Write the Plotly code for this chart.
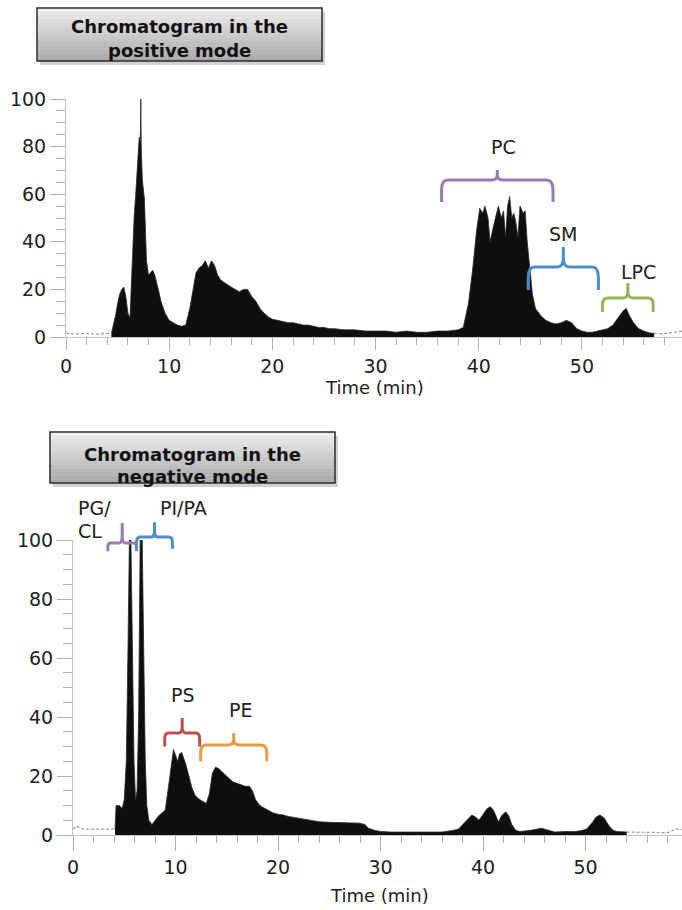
import plotly.graph_objects as go

# ---------------- data ----------------
# Positive mode chromatogram (time in min, relative abundance %)
pos_time = [4.4, 4.6, 4.8, 5.0, 5.2, 5.4, 5.6, 5.8, 6.0, 6.2, 6.4, 6.6, 6.8, 7.0, 7.1, 7.2, 7.25, 7.3,
            7.4, 7.6, 7.8, 8.0, 8.2, 8.4, 8.6, 8.8, 9.0, 9.2, 9.4, 9.6, 9.8, 10.0, 10.4, 10.8, 11.2,
            11.6, 12.0, 12.3, 12.6, 12.9, 13.2, 13.5, 13.8, 14.1, 14.4, 14.7, 15.0, 15.3, 15.6, 16.0,
            16.4, 16.8, 17.2, 17.6, 18.0, 18.4, 18.8, 19.2, 19.6, 20.0, 20.5, 21.0, 21.5, 22.0, 22.5,
            23.0, 23.5, 24.0, 24.5, 25.0, 25.5, 26.0, 27.0, 28.0, 29.0, 30.0, 31.0, 32.0, 33.0, 34.0,
            35.0, 36.0, 37.0, 38.0, 38.5, 39.0, 39.4, 39.8, 40.1, 40.4, 40.6, 40.9, 41.1, 41.4, 41.7,
            41.9, 42.2, 42.4, 42.6, 42.8, 43.0, 43.2, 43.4, 43.6, 43.8, 44.0, 44.3, 44.5, 44.7, 44.9,
            45.2, 45.5, 46.0, 46.5, 47.0, 47.5, 48.0, 48.5, 49.0, 49.5, 50.0, 50.5, 51.0, 51.5, 52.0,
            52.5, 53.0, 53.5, 54.0, 54.3, 54.6, 55.0, 55.5, 56.0, 56.5, 57.0]
pos_abund = [1.5, 5, 9, 14, 18, 20, 21, 17, 10, 8, 30, 50, 63, 80, 84, 82, 100, 78,
             66, 58, 32, 26, 27, 28, 26, 23, 19, 15, 12, 10, 8.5, 7, 6, 5, 4.5,
             5, 12, 20, 27, 29, 30, 32, 29, 32, 30, 26, 24, 23, 22, 21,
             20, 19, 20, 20, 17, 15, 12, 10, 8.5, 7.5, 7, 6.5, 6, 6, 5.5,
             5, 5, 4.5, 4, 4, 3.5, 3.5, 3, 3, 2.5, 2.5, 2.5, 2, 2.5, 2,
             2, 2.5, 2.5, 3, 4, 14, 28, 45, 54, 52, 55, 50, 40, 46, 52,
             55, 50, 53, 42, 55, 59, 50, 52, 48, 42, 55, 52, 53, 40, 30,
             18, 12, 9, 7, 6, 5.5, 6, 7, 6, 3.5, 2.5, 2, 2, 2.5, 3,
             3.5, 5, 8, 11, 12, 9, 6, 3.5, 2.5, 1.8, 1.5]
pos_base_time = [0, 1, 2, 3, 4, 4.4, 57.0, 58.0, 59.0, 59.7]
pos_base_abund = [1.5, 1.3, 1.5, 1.2, 1.5, 1.5, 1.5, 1.4, 2.0, 2.5]

# Negative mode chromatogram
neg_time = [4.1, 4.2, 4.5, 4.8, 5.0, 5.2, 5.35, 5.5, 5.65, 5.8, 5.95, 6.1, 6.25, 6.4, 6.55, 6.75,
            6.9, 7.05, 7.2, 7.4, 7.7, 8.0, 8.35, 8.7, 9.0, 9.3, 9.6, 9.8, 10.0, 10.2, 10.4, 10.6,
            10.8, 11.0, 11.3, 11.6, 11.9, 12.2, 12.6, 13.0, 13.3, 13.6, 13.9, 14.2, 14.5, 14.8,
            15.2, 15.6, 16.0, 16.4, 16.8, 17.2, 17.5, 17.8, 18.1, 18.4, 19.0, 19.5, 20.0, 20.5,
            21.0, 21.5, 22.0, 22.5, 23.0, 23.5, 24.0, 25.0, 26.0, 27.0, 28.0, 28.5, 28.8, 29.5,
            30.0, 31.0, 32.0, 33.0, 34.0, 35.0, 36.0, 37.0, 37.6, 38.0, 38.5, 38.9, 39.3, 39.6,
            40.0, 40.4, 40.7, 41.0, 41.3, 41.5, 41.8, 42.2, 42.5, 42.8, 43.2, 43.6, 44.5, 45.2,
            45.7, 46.2, 47.0, 48.0, 49.0, 49.6, 50.1, 50.6, 51.0, 51.4, 51.8, 52.2, 52.6, 53.0, 54.0]
neg_abund = [2, 10, 10, 9, 12, 25, 60, 100, 100, 60, 25, 12, 15, 40, 100, 100,
             60, 25, 10, 5, 3.5, 5, 6.5, 7.5, 8.5, 16, 25, 29, 27, 25, 27.5, 28,
             26, 24, 20, 16, 13.5, 12.4, 11.5, 10.7, 14, 21, 23, 22.5, 21.5, 20.5,
             19.5, 18, 17.5, 17, 16.5, 16.5, 15, 12, 10.5, 9.6, 8.5, 7.5, 7, 6.8,
             6.3, 6, 5.6, 5.2, 5, 4.8, 4.5, 4.3, 4.2, 4.2, 4, 3.5, 2.3, 1.5,
             1.2, 1, 1, 0.8, 0.9, 0.8, 1, 1.5, 2, 3.5, 5.5, 6.8, 6, 5,
             7, 9, 9.6, 8.5, 6, 4.5, 6.5, 7.9, 6.5, 3.5, 1.5, 1.2, 1.5, 2,
             2.3, 1.8, 1, 1.2, 1.2, 1.5, 2, 4, 6, 6.8, 5.8, 3.5, 1.8, 1.2, 1]
neg_base_time = [0, 0.3, 1, 2, 3, 4.1, 54.0, 56.0, 58.0, 58.8, 59.4]
neg_base_abund = [2, 3, 2, 2, 2, 2, 1, 0.8, 0.8, 2, 1.8]

x_ticks = [0, 10, 20, 30, 40, 50]
y_ticks = [0, 20, 40, 60, 80, 100]

# ---------------- layout helpers ----------------
W, H = 682, 910
def px(x):
    return x / W
def py(y):
    return 1 - y / H

top_dom = [py(337), py(99)]
bot_dom = [py(835), py(540)]

def ypap(v, dom):
    return dom[0] + v / 100.0 * (dom[1] - dom[0])

fig = go.Figure()

def add_chrom(t, a, bt, ba, xa, ya):
    fig.add_trace(go.Scatter(x=t, y=a, mode="lines", fill="tozeroy",
                             fillcolor="#0e0e0e", line=dict(color="#2a2a2a", width=0.8),
                             xaxis=xa, yaxis=ya, hoverinfo="skip", showlegend=False))
    # light vertical scan stripes inside the filled area
    fig.add_trace(go.Bar(x=t, y=a, width=0.08, marker=dict(color="rgba(200,200,200,0.35)", line=dict(width=0)),
                         xaxis=xa, yaxis=ya, hoverinfo="skip", showlegend=False))
    n = bt.index(max(x for x in bt if x < 10)) + 1
    fig.add_trace(go.Scatter(x=bt[:n], y=ba[:n], mode="lines",
                             line=dict(color="#9a9a9a", width=1.2, dash="3px,2px"),
                             xaxis=xa, yaxis=ya, hoverinfo="skip", showlegend=False))
    fig.add_trace(go.Scatter(x=bt[n:], y=ba[n:], mode="lines",
                             line=dict(color="#9a9a9a", width=1.2, dash="3px,2px"),
                             xaxis=xa, yaxis=ya, hoverinfo="skip", showlegend=False))

add_chrom(pos_time, pos_abund, pos_base_time, pos_base_abund, "x", "y")
add_chrom(neg_time, neg_abund, neg_base_time, neg_base_abund, "x2", "y2")

tickfont = dict(family="DejaVu Sans", size=19, color="#222")
axcol = "#c4c4c4"

def xax(dom, rng, anchor, tl):
    return dict(domain=dom, range=rng, anchor=anchor, showline=True, linecolor=axcol, linewidth=1,
                ticks="outside", ticklen=tl, tickcolor="#b0b0b0", tickwidth=1, automargin=False,
                tickvals=x_ticks, ticktext=[str(v) for v in x_ticks],
                minor=dict(dtick=2, tick0=0, ticks="outside", ticklen=7, tickcolor="#b0b0b0", showgrid=False),
                showgrid=False, zeroline=False, tickfont=tickfont, fixedrange=True)

def yax(dom, anchor):
    return dict(domain=dom, range=[0, 100], anchor=anchor, showline=True, linecolor=axcol, linewidth=1,
                ticks="outside", ticklen=15, tickcolor="#b0b0b0", tickwidth=1, automargin=False,
                tickvals=y_ticks, ticktext=[str(v) for v in y_ticks],
                minor=dict(dtick=5, tick0=0, ticks="outside", ticklen=9, tickcolor="#b0b0b0", showgrid=False),
                showgrid=False, zeroline=False, tickfont=tickfont, fixedrange=True)

shapes = []
annotations = []

# title boxes with vertical gradient
def title_box(x0, y0, x1, y1, line1, line2, ty1, ty2):
    shapes.append(dict(type="rect", xref="paper", yref="paper", x0=px(x0 + 3), x1=px(x1 + 3),
                       y0=py(y1 + 4), y1=py(y0 + 4), line=dict(width=0), fillcolor="rgba(0,0,0,0.18)"))
    n = 14
    for i in range(n):
        f = i / (n - 1)
        g = int(238 - f * (238 - 170))
        shapes.append(dict(type="rect", xref="paper", yref="paper", x0=px(x0), x1=px(x1),
                           y0=py(y0 + (y1 - y0) * (i + 1) / n), y1=py(y0 + (y1 - y0) * i / n),
                           line=dict(width=0), fillcolor=f"rgb({g},{g},{g})"))
    shapes.append(dict(type="rect", xref="paper", yref="paper", x0=px(x0), x1=px(x1),
                       y0=py(y1), y1=py(y0), line=dict(color="#2b2b2b", width=1.5), fillcolor="rgba(0,0,0,0)"))
    cx = (x0 + x1) / 2
    for txt, ty in ((line1, ty1), (line2, ty2)):
        annotations.append(dict(xref="paper", yref="paper", x=px(cx), y=py(ty), text=f"<b>{txt}</b>",
                                showarrow=False, xanchor="center", yanchor="middle",
                                font=dict(family="DejaVu Sans", size=18, color="#111")))

title_box(37, 8, 322, 61, "Chromatogram in the", "positive mode", 26, 50)
title_box(50, 432, 335, 483, "Chromatogram in the", "negative mode", 454, 476)

# curly brackets
def brace(xref, dom, x0, x1, ytop, yend, ytip, color):
    T, E, P = ypap(ytop, dom), ypap(yend, dom), ypap(ytip, dom)
    xm = (x0 + x1) / 2
    rx = min(0.6, (x1 - x0) * 0.1)
    cy = (T - E) * 0.45
    cu = (P - T) * 0.45
    path = (f"M {x0},{E} L {x0},{T - cy} Q {x0},{T} {x0 + rx},{T} L {xm - rx},{T} "
            f"Q {xm},{T} {xm},{T + cu} L {xm},{P} L {xm},{T + cu} Q {xm},{T} {xm + rx},{T} "
            f"L {x1 - rx},{T} Q {x1},{T} {x1},{T - cy} L {x1},{E}")
    shapes.append(dict(type="path", xref=xref, yref="paper", path=path,
                       line=dict(color=color, width=3)))

purple, blue, green, red, orange = "#9b79b5", "#4d8ed0", "#93b552", "#c0504d", "#ee9a45"
brace("x", top_dom, 36.4, 47.2, 66, 56.7, 70.2, purple)
brace("x", top_dom, 44.8, 51.6, 29.4, 19.7, 37.8, blue)
brace("x", top_dom, 52.0, 56.9, 16.4, 10.5, 22.7, green)
brace("x2", bot_dom, 3.4, 6.2, 99, 96.2, 105.8, purple)
brace("x2", bot_dom, 6.2, 9.7, 101, 97.0, 106.0, blue)
brace("x2", bot_dom, 8.95, 12.35, 34.6, 30.0, 39.7, red)
brace("x2", bot_dom, 12.45, 18.9, 30.5, 25.0, 34.6, orange)

lab_font = dict(family="DejaVu Sans", size=19, color="#222")
for txt, x, y, anc in [("PC", 503, 147, "center"), ("SM", 563, 234, "center"), ("LPC", 638, 272, "center"),
                       ("PI/PA", 183, 508, "center"), ("PS", 183, 695, "center"), ("PE", 240, 710, "center"),
                       ("PG/", 76, 508, "left"), ("CL", 76, 531, "left")]:
    annotations.append(dict(xref="paper", yref="paper", x=px(x), y=py(y), text=txt, showarrow=False,
                            xanchor=anc, yanchor="middle", font=lab_font))

for x, y in [(375, 387), (380, 895)]:
    annotations.append(dict(xref="paper", yref="paper", x=px(x), y=py(y), text="Time (min)",
                            showarrow=False, xanchor="center", yanchor="middle",
                            font=dict(family="DejaVu Sans", size=18, color="#222")))

fig.update_layout(
    width=W, height=H, margin=dict(l=0, r=0, t=0, b=0, pad=0, autoexpand=False),
    paper_bgcolor="white", plot_bgcolor="white", showlegend=False,
    bargap=0, barmode="overlay",
    xaxis=xax([px(66), 1.0], [0, 59.7], "y", 12),
    yaxis=yax(top_dom, "x"),
    xaxis2=xax([px(73), 1.0], [0, 59.4], "y2", 15),
    yaxis2=yax(bot_dom, "x2"),
    shapes=shapes, annotations=annotations,
)

fig.write_html("out.html", config={"displayModeBar": False, "staticPlot": True},
               post_script="document.body.style.margin='0px';document.body.style.overflow='hidden';")
